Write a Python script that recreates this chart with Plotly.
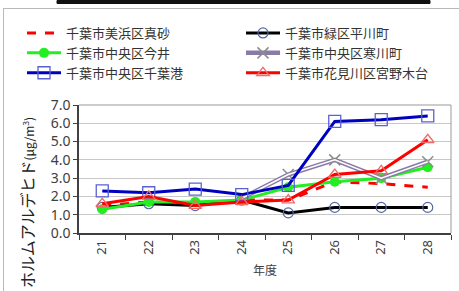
import plotly.graph_objects as go

years = ["21", "22", "23", "24", "25", "26", "27", "28"]
y_masago = [1.5, 1.7, 1.6, 1.8, 1.8, 2.8, 2.7, 2.5]
y_hirakawa = [1.4, 1.6, 1.5, 1.8, 1.1, 1.4, 1.4, 1.4]
y_imai = [1.3, 1.7, 1.7, 1.8, 2.5, 2.8, 3.0, 3.6]
y_samukawa = [None, None, None, 1.9, 3.2, 4.0, 3.0, 3.9]
y_chibako = [2.3, 2.2, 2.4, 2.1, 2.6, 6.1, 6.2, 6.4]
y_miyanogi = [1.6, 2.0, 1.5, 1.7, 1.8, 3.2, 3.4, 5.1]

names = ["千葉市美浜区真砂", "千葉市緑区平川町", "千葉市中央区今井",
         "千葉市中央区寒川町", "千葉市中央区千葉港", "千葉市花見川区宮野木台"]
yticks = [0, 1, 2, 3, 4, 5, 6, 7]
y_title = "ホルムアルデヒド<span style='font-size:12px'>(μg/m<sup>3</sup>)</span>"
x_title = "年度"

fig = go.Figure()
fig.add_trace(go.Scatter(x=years, y=y_masago, name=names[0], mode="lines",
                         line=dict(color="#ff0000", width=3, dash="dash")))
fig.add_trace(go.Scatter(x=years, y=y_hirakawa, name=names[1], mode="lines+markers",
                         line=dict(color="#000000", width=3),
                         marker=dict(symbol="circle-open", size=10, color="#5468a8", line=dict(width=1.2))))
fig.add_trace(go.Scatter(x=years, y=y_imai, name=names[2], mode="lines+markers",
                         line=dict(color="#22ee22", width=3),
                         marker=dict(symbol="circle", size=10, color="#22ee22")))
# double line for 寒川町
fig.add_trace(go.Scatter(x=years, y=y_samukawa, name=names[3], mode="lines+markers",
                         line=dict(color="#8a7aa8", width=4.5),
                         marker=dict(symbol="x-thin-open", size=11, color="#8c8c8c", line=dict(width=1.5, color="#8c8c8c"))))
fig.add_trace(go.Scatter(x=years, y=y_samukawa, name=names[3], mode="lines", showlegend=False,
                         line=dict(color="#ffffff", width=1.5), hoverinfo="skip"))
fig.add_trace(go.Scatter(x=years, y=y_chibako, name=names[4], mode="lines+markers",
                         line=dict(color="#0000c0", width=3),
                         marker=dict(symbol="square-open", size=12, color="#5a62d0", line=dict(width=1.3))))
fig.add_trace(go.Scatter(x=years, y=y_miyanogi, name=names[5], mode="lines+markers",
                         line=dict(color="#ff0000", width=3),
                         marker=dict(symbol="triangle-up-open", size=11, color="#f06a6a", line=dict(width=1.3))))

L, R, T, B = 79, 8, 105, 58
W, H = 459, 291
pw = W - L - R
ph = H - T - B

def px(xp):
    return (xp - L) / pw

def py(yp):
    return (H - B - yp) / ph

shapes = [
    # outer grey border
    dict(type="line", xref="paper", yref="paper", x0=px(3), x1=px(W), y0=py(8.5), y1=py(8.5),
         line=dict(color="#b8b8b8", width=1)),
    dict(type="line", xref="paper", yref="paper", x0=px(3.5), x1=px(3.5), y0=py(8.5), y1=py(H),
         line=dict(color="#b8b8b8", width=1)),
    # black bar at top
    dict(type="rect", xref="paper", yref="paper", x0=px(57), x1=px(430), y0=py(3.5), y1=py(0.5),
         line=dict(width=1, color="#111111"), fillcolor="#111111"),
    # plot frame top/right
    dict(type="line", xref="paper", yref="paper", x0=0, x1=1, y0=1, y1=1, line=dict(color="#999999", width=1)),
    dict(type="line", xref="paper", yref="paper", x0=1, x1=1, y0=0, y1=1, line=dict(color="#999999", width=1)),
]

fig.update_layout(
    width=W, height=H,
    margin=dict(l=L, r=R, t=T, b=B, autoexpand=False),
    paper_bgcolor="white", plot_bgcolor="white",
    font=dict(family="Noto Sans CJK JP", color="#404040"),
    showlegend=True,
    legend=dict(orientation="h", x=px(22), y=py(18), xanchor="left", yanchor="top",
                entrywidth=170, entrywidthmode="pixels",
                font=dict(size=13, color="#333333"), itemwidth=34,
                bgcolor="rgba(0,0,0,0)", tracegroupgap=0),
    shapes=shapes,
    annotations=[dict(text=y_title, xref="paper", yref="paper", x=px(27), y=py(203),
                      xanchor="center", yanchor="middle", textangle=-90, showarrow=False,
                      font=dict(size=16, color="#222222"))],
    xaxis=dict(type="category", categoryorder="array", categoryarray=years,
               tickson="boundaries", ticks="outside", ticklen=5, tickcolor="#404040",
               showline=True, linecolor="#404040", linewidth=1.5, showgrid=False,
               tickangle=-90, tickfont=dict(size=13, family="Noto Sans", color="#404040"),
               title=dict(text=x_title, font=dict(size=12, color="#404040"), standoff=13),
               range=[-0.5, 7.5]),
    yaxis=dict(range=[0, 7], tickvals=yticks, tickformat=".1f",
               showgrid=True, gridcolor="#c8c8c8", gridwidth=1,
               showline=True, linecolor="#404040", linewidth=1.5,
               ticks="outside", ticklen=4, tickcolor="#404040",
               tickfont=dict(size=14, family="Noto Sans", color="#404040"),
               zeroline=False),
)

fig.write_html("out.html", config={"displayModeBar": False},
               post_script="document.body.style.margin='0';document.body.style.overflow='hidden';")
